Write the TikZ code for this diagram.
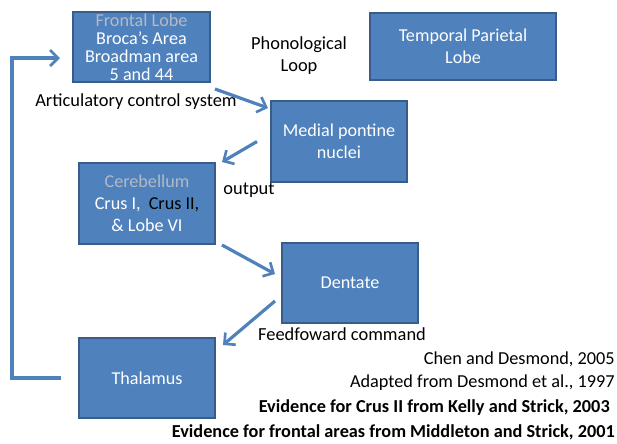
\documentclass[tikz,border=0pt]{standalone}
\usepackage{fontspec}
\setmainfont{Carlito}
\usetikzlibrary{arrows.meta,calc}
\definecolor{boxblue}{HTML}{4F81BD}
\definecolor{boxedge}{HTML}{385D8A}
\definecolor{lightgrey}{HTML}{B4B9C4}
\begin{document}
\begin{tikzpicture}[x=0.75pt,y=-0.75pt,
  blockbox/.style={draw=boxedge,fill=boxblue,line width=1.5pt,text=white,align=center,inner sep=0pt,font=\fontsize{13.6}{16.5}\selectfont},
  flow/.style={draw=boxblue,line width=2.4pt,-{Straight Barb[length=6pt,width=12pt,line width=2pt]}},
  lbl/.style={inner sep=0pt,font=\fontsize{13.8}{16.5}\selectfont},
  refl/.style={inner sep=0pt,anchor=east,font=\fontsize{13.7}{15}\selectfont}]
\useasboundingbox (0,0) rectangle (617,443);
\node[blockbox,minimum width={137*0.75pt},minimum height={70*0.75pt},font=\fontsize{13.6}{13.5}\selectfont] (fr) at (141.5,47)
  {{\color{lightgrey}Frontal Lobe}\\Broca’s Area\\Broadman area\\5 and 44};
\node[blockbox,minimum width={186*0.75pt},minimum height={67*0.75pt}] (tp) at (463,46.5) {Temporal Parietal\\Lobe};
\node[blockbox,minimum width={136*0.75pt},minimum height={81*0.75pt}] (mp) at (339,141.5) {Medial pontine\\nuclei};
\node[blockbox,minimum width={136*0.75pt},minimum height={81*0.75pt}] (cb) at (147,203.5)
  {{\color{lightgrey}Cerebellum}\\Crus I,\ \ {\color{black}Crus II,}\\\& Lobe VI};
\node[blockbox,minimum width={136*0.75pt},minimum height={80*0.75pt}] (dt) at (350,283) {Dentate};
\node[blockbox,minimum width={136*0.75pt},minimum height={80*0.75pt}] (th) at (147,378) {Thalamus};
\node[lbl,align=center] (pl) at (299,56) {Phonological\\Loop};
\node[lbl] (acs) at (136,102) {Articulatory control system};
\node[lbl] (out) at (249,190) {output};
\node[lbl] (ff) at (342,334) {Feedfoward command};
\node[refl] (r1) at (615,359) {Chen and Desmond, 2005};
\node[refl] (r2) at (615,383) {Adapted from Desmond et al., 1997};
\node[refl,font=\bfseries\fontsize{13.7}{15}\selectfont] (r3) at (610,408) {Evidence for Crus II from Kelly and Strick, 2003};
\node[refl,font=\bfseries\fontsize{13.7}{15}\selectfont] (r4) at (615,432) {Evidence for frontal areas from Middleton and Strick, 2001};
\draw[flow] ($(fr.south east)+(4,6)$) -- ($(mp.north west)+(-2,8)$);
\draw[flow] ($(mp.west)+(-13,0)$) -- ($(cb.north east)+(6,0)$);
\draw[flow] ($(cb.south east)+(6,0)$) -- ($(dt.west)+(-6,-9)$);
\draw[flow] ($(dt.west)+(-6,18)$) -- ($(th.north east)+(7,8)$);
\coordinate (fbstart) at ($(th.west)+(-17,0)$);
\coordinate (fbend) at ($(fr.west)+(-12,11)$);
\draw[flow] (fbstart) -- (fbstart -| 12,0) -- (12,0 |- fbend) -- (fbend);
\end{tikzpicture}
\end{document}
